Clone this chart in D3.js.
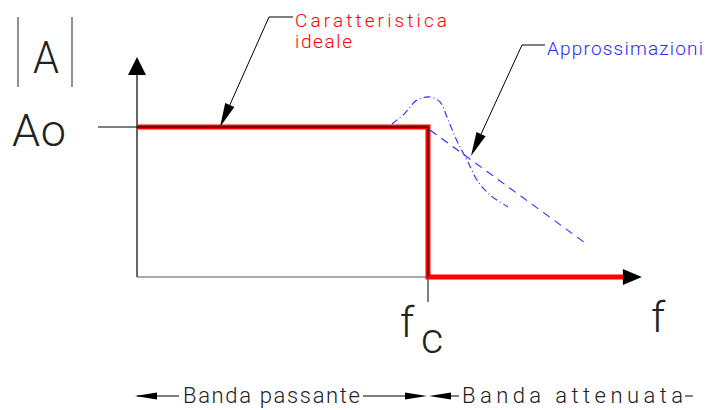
<!DOCTYPE html>
<html><head><meta charset="utf-8">
<script src="https://cdn.jsdelivr.net/npm/d3@7"></script>
<style>
body{margin:0;background:#fff;}
svg{display:block;}
text{font-family:Roboto,"DejaVu Sans",sans-serif;font-weight:300;}
</style></head>
<body>
<script>
// ---- data (frequency in units of fc, gain in units of Ao) ----
const idealF = [0, 1, 1, 1.67];
const idealA = [1, 1, 0, 0];
const linearF = [1.007, 1.54];
const linearA = [0.98, 0.227];
const peakF = [0.876, 0.921, 0.962, 1.007, 1.041, 1.069, 1.103, 1.134, 1.168, 1.213, 1.275];
const peakA = [1.02, 1.093, 1.18, 1.2, 1.167, 1.047, 0.893, 0.78, 0.647, 0.547, 0.467];
const yTickValues = [1];
const yTickLabels = ["Ao"];
const xTickValues = [1];
const xTickLabels = ["f", "c"];
const bandEdges = [0, 1, 1.91];
const bandLabels = ["Banda passante", "Banda attenuata"];
const yAxisLabel = "A";
const xAxisLabel = "f";
const idealLabel = ["Caratteristica", "ideale"];
const approxLabel = "Approssimazioni";

const W = 715, H = 410;
const svg = d3.select("body").append("svg").attr("width", W).attr("height", H);
const x = d3.scaleLinear().domain([0, 1]).range([137, 428]);
const y = d3.scaleLinear().domain([0, 1]).range([277, 127]);
const ink = "#222", red = "#ff0000", blue = "#2a2aff";

function tri(g, tip, dir, len, half, color) {
  const [tx, ty] = tip;
  let pts;
  if (dir === "up") pts = [[tx, ty], [tx - half, ty + len], [tx + half, ty + len]];
  else if (dir === "right") pts = [[tx, ty], [tx - len, ty - half], [tx - len, ty + half]];
  else if (dir === "left") pts = [[tx, ty], [tx + len, ty - half], [tx + len, ty + half]];
  g.append("path").attr("d", d3.line()(pts) + "Z").attr("fill", color || "#000");
}
function leaderArrow(g, p0, tip) {
  const dx = tip[0] - p0[0], dy = tip[1] - p0[1], L = Math.hypot(dx, dy);
  const ux = dx / L, uy = dy / L, len = 24, half = 5;
  const bx = tip[0] - ux * len, by = tip[1] - uy * len;
  g.append("line").attr("x1", p0[0]).attr("y1", p0[1]).attr("x2", bx).attr("y2", by)
    .attr("stroke", "#000").attr("stroke-width", 1);
  const pts = [tip, [bx - uy * half, by + ux * half], [bx + uy * half, by - ux * half]];
  g.append("path").attr("d", d3.line()(pts) + "Z").attr("fill", "#000");
}
function label(x0, y0, size, len, color, str) {
  return svg.append("text").attr("x", x0).attr("y", y0).attr("font-size", size)
    .attr("textLength", len).attr("lengthAdjust", "spacing").attr("fill", color).text(str);
}

// axes
const xMax = 1.735, yMax = 1.467;
svg.append("line").attr("x1", x(0)).attr("x2", x(0)).attr("y1", y(0)).attr("y2", y(yMax) + 10)
  .attr("stroke", "#000").attr("stroke-width", 1.2);
tri(svg, [x(0), y(yMax)], "up", 18, 9);
svg.append("line").attr("x1", x(0)).attr("x2", x(1)).attr("y1", y(0)).attr("y2", y(0))
  .attr("stroke", "#555").attr("stroke-width", 1.2);

// y ticks
yTickValues.forEach((v, i) => {
  svg.append("line").attr("x1", x(0) - 39).attr("x2", x(0)).attr("y1", y(v)).attr("y2", y(v))
    .attr("stroke", "#000").attr("stroke-width", 1);
  label(12, y(v) + 19, 45, 54, ink, yTickLabels[i]);
});
// x ticks
xTickValues.forEach((v) => {
  svg.append("line").attr("x1", x(v)).attr("x2", x(v)).attr("y1", y(0)).attr("y2", y(0) + 25)
    .attr("stroke", "#000").attr("stroke-width", 1);
  svg.append("text").attr("x", x(v) - 28).attr("y", 337).attr("font-size", 43).attr("fill", ink).text(xTickLabels[0]);
  svg.append("text").attr("x", x(v) - 7).attr("y", 353).attr("font-size", 43).attr("fill", ink).text(xTickLabels[1]);
});
// axis labels
svg.append("text").attr("x", 651).attr("y", 332).attr("font-size", 43).attr("fill", ink).text(xAxisLabel);
svg.append("text").attr("x", 33).attr("y", 73).attr("font-size", 45).attr("textLength", 26)
  .attr("lengthAdjust", "spacingAndGlyphs").attr("fill", ink).text(yAxisLabel);
[18, 72].forEach(bx => svg.append("line").attr("x1", bx).attr("x2", bx).attr("y1", 17).attr("y2", 87)
  .attr("stroke", "#555").attr("stroke-width", 1.3));

// ideal characteristic
const idealPts = idealF.map((f, i) => [x(f), y(idealA[i])]);
svg.append("path").attr("d", d3.line()(idealPts)).attr("fill", "none").attr("stroke", red)
  .attr("stroke-width", 5).attr("stroke-linejoin", "miter");
svg.append("path").attr("d", d3.line()(idealPts.slice(0, 3))).attr("fill", "none").attr("stroke", "#000")
  .attr("stroke-width", 1);
tri(svg, [x(xMax), y(0)], "right", 19, 8);

// approximations
svg.append("path").attr("d", d3.line()(linearF.map((f, i) => [x(f), y(linearA[i])])))
  .attr("fill", "none").attr("stroke", blue).attr("stroke-width", 1.1).attr("stroke-dasharray", "8,6");
svg.append("path").attr("d", d3.line().curve(d3.curveCatmullRom)(peakF.map((f, i) => [x(f), y(peakA[i])])))
  .attr("fill", "none").attr("stroke", blue).attr("stroke-width", 1.1).attr("stroke-dasharray", "7,3,1,3");

// leaders and labels
svg.append("line").attr("x1", 269).attr("x2", 293).attr("y1", 17).attr("y2", 17).attr("stroke", "#000");
leaderArrow(svg, [269, 17], [220, 127]);
label(295, 27, 19, 152, red, idealLabel[0]);
label(295, 48, 19, 57, red, idealLabel[1]);
svg.append("line").attr("x1", 522).attr("x2", 545).attr("y1", 45).attr("y2", 45).attr("stroke", "#000");
leaderArrow(svg, [522, 45], [471, 156]);
label(547, 55, 19, 156, blue, approxLabel);

// band dimension lines
const by = 396;
const seg = (a, b) => svg.append("line").attr("x1", a).attr("x2", b).attr("y1", by).attr("y2", by)
  .attr("stroke", "#000").attr("stroke-width", 1);
// passante
tri(svg, [x(bandEdges[0]) - 2, by], "left", 22, 3.5);
seg(x(bandEdges[0]), 179);
label(183, 403, 22, 177, ink, bandLabels[0]);
seg(363, x(bandEdges[1]) - 10);
tri(svg, [x(bandEdges[1]) - 1, by], "right", 22, 3.5);
// attenuata
tri(svg, [x(bandEdges[1]) + 1, by], "left", 22, 3.5);
seg(x(bandEdges[1]) + 10, 459);
label(462, 403, 22, 221, ink, bandLabels[1]);
seg(685, x(bandEdges[2]));
</script>
</body></html>
